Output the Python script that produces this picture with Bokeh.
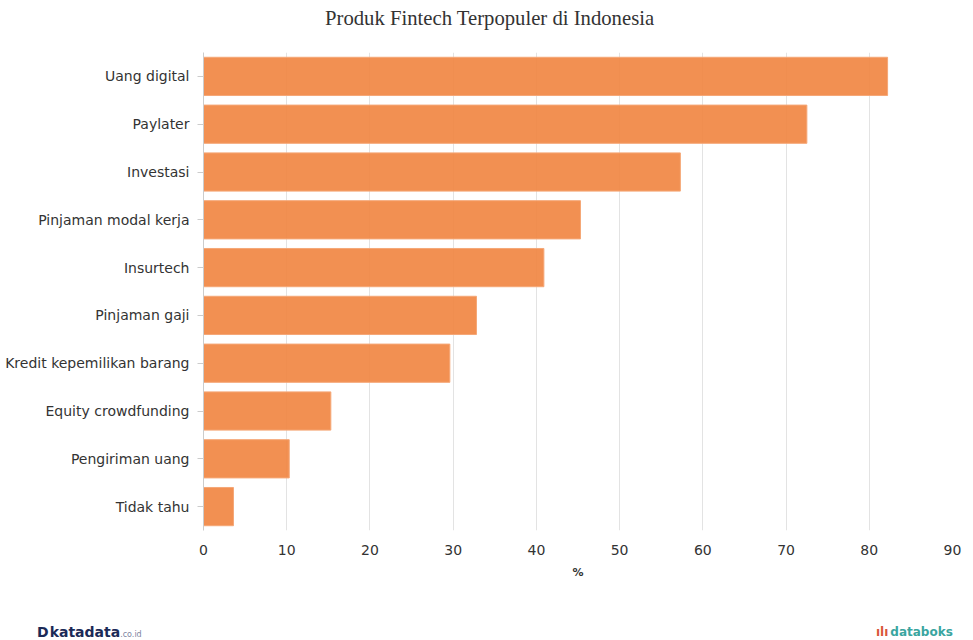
from bokeh.plotting import figure
from bokeh.models import Range1d, FactorRange, FixedTicker, Div
from bokeh.layouts import column
from bokeh.embed import file_html
from bokeh.resources import INLINE

title_text = "Produk Fintech Terpopuler di Indonesia"
categories = ["Uang digital", "Paylater", "Investasi", "Pinjaman modal kerja",
              "Insurtech", "Pinjaman gaji", "Kredit kepemilikan barang",
              "Equity crowdfunding", "Pengiriman uang", "Tidak tahu"]
values = [82.2, 72.5, 57.3, 45.3, 40.9, 32.8, 29.6, 15.3, 10.3, 3.6]
x_ticks = [0, 10, 20, 30, 40, 50, 60, 70, 80, 90]
x_label = "%"

W = 965
TITLE_H, H, FOOT_H = 26, 574, 26
FONT = "DejaVu Sans"

title_html = (
    '<div style="position:relative;width:960px;height:%dpx;">'
    '<span style="position:absolute;left:320px;top:1px;white-space:nowrap;'
    'font-family:\'Liberation Serif\',serif;font-size:20.7px;line-height:24px;'
    'color:#333333;">%s</span></div>' % (TITLE_H, title_text)
)
title_div = Div(text=title_html, width=W, height=TITLE_H)

p = figure(width=W, height=H,
           y_range=FactorRange(factors=categories[::-1]),
           x_range=Range1d(0, 90),
           output_backend="svg", toolbar_location=None,
           min_border_left=203, min_border_right=13,
           min_border_top=16, min_border_bottom=80)

p.hbar(y=categories, right=values, left=0, height=0.8,
       fill_color="#f1843f", fill_alpha=0.9,
       line_color="#f5a777", line_width=1)

p.outline_line_color = None
p.background_fill_color = "white"
p.border_fill_color = "white"

p.ygrid.grid_line_color = None
p.xgrid.grid_line_color = "#e3e3e3"
p.xgrid.ticker = FixedTicker(ticks=x_ticks)
p.xaxis.ticker = FixedTicker(ticks=x_ticks)

p.yaxis.axis_line_color = "#cccccc"
p.yaxis.major_tick_out = 6
p.yaxis.major_tick_in = 0
p.yaxis.major_tick_line_color = "#cccccc"
p.yaxis.minor_tick_line_color = None
p.yaxis.major_label_text_font = FONT
p.yaxis.major_label_text_font_size = "14px"
p.yaxis.major_label_text_color = "#333333"
p.yaxis.major_label_standoff = 8

p.xaxis.axis_line_color = None
p.xaxis.major_tick_line_color = None
p.xaxis.minor_tick_line_color = None
p.xaxis.major_label_text_font = FONT
p.xaxis.major_label_text_font_size = "14px"
p.xaxis.major_label_text_color = "#333333"
p.xaxis.major_label_standoff = 8
p.xaxis.axis_label = x_label
p.xaxis.axis_label_text_font = FONT
p.xaxis.axis_label_text_font_size = "11px"
p.xaxis.axis_label_text_font_style = "bold"
p.xaxis.axis_label_text_color = "#333333"
p.xaxis.axis_label_standoff = 8

footer_html = (
    '<div style="position:relative;width:960px;height:26px;font-family:\'DejaVu Sans\',sans-serif;">'
    '<span style="position:absolute;left:32px;top:9px;font-weight:bold;font-size:14px;'
    'line-height:16px;color:#1b2a57;">D<span style="margin-left:1px">katadata</span>'
    '<span style="font-size:8px;font-weight:normal;color:#7d84a0;">.co.id</span></span>'
    '<span style="position:absolute;left:871px;top:9px;font-weight:bold;font-size:12px;'
    'line-height:16px;"><span style="color:#d9573a;">ılı</span>'
    '<span style="color:#3aa59f;margin-left:2px;">databoks</span></span>'
    '</div>'
)
footer = Div(text=footer_html, width=W, height=FOOT_H)

layout = column(title_div, p, footer, spacing=0)
open("out.html", "w").write(file_html(layout, INLINE))
